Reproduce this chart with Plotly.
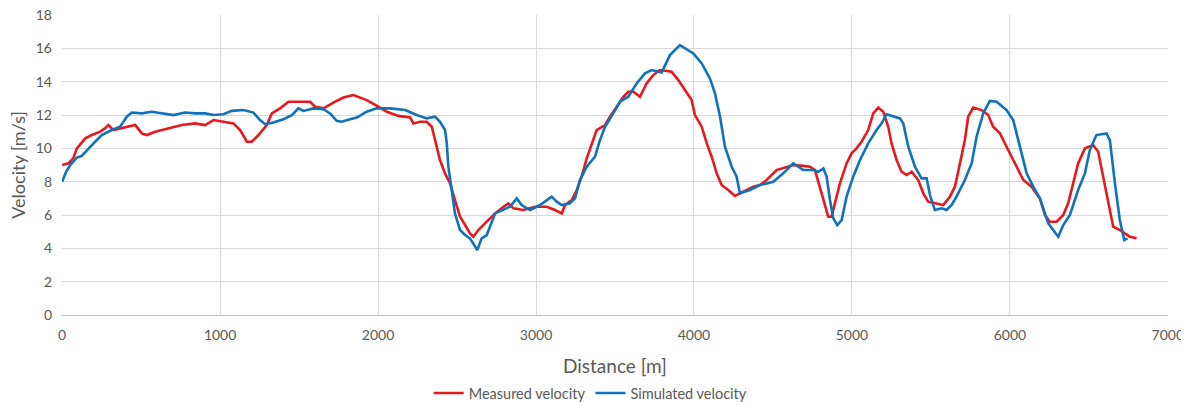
import plotly.graph_objects as go

measured_x = [0, 40, 70, 93, 120, 146, 188, 241, 270, 293, 325, 378, 420, 462, 480, 504, 536, 589, 671, 757,
              842, 905, 958, 1021, 1084, 1127, 1169, 1200, 1243, 1296, 1327, 1380, 1433, 1506, 1570, 1601, 1654,
              1717, 1780, 1844, 1928, 2002, 2055, 2128, 2203, 2224, 2266, 2308, 2340, 2361, 2392, 2424, 2456,
              2487, 2519, 2551, 2582, 2603, 2635, 2688, 2741, 2794, 2825, 2857, 2920, 2994, 3068, 3120, 3163,
              3184, 3226, 3258, 3289, 3321, 3352, 3384, 3437, 3468, 3511, 3553, 3584, 3616, 3658, 3700, 3742,
              3785, 3858, 3901, 3943, 3985, 4006, 4049, 4081, 4112, 4144, 4175, 4217, 4259, 4312, 4375, 4418,
              4460, 4523, 4576, 4629, 4692, 4734, 4766, 4797, 4829, 4850, 4871, 4892, 4924, 4966, 4998, 5029,
              5061, 5103, 5135, 5167, 5198, 5230, 5251, 5283, 5314, 5346, 5378, 5420, 5452, 5483, 5536, 5578,
              5620, 5652, 5684, 5715, 5736, 5768, 5821, 5863, 5894, 5937, 5979, 6032, 6085, 6137, 6190, 6222,
              6253, 6296, 6338, 6369, 6401, 6432, 6475, 6527, 6559, 6591, 6622, 6654, 6696, 6728, 6759, 6802]
measured_v = [9.0, 9.1, 9.4, 10.0, 10.3, 10.6, 10.8, 11.0, 11.2, 11.4, 11.1, 11.2, 11.3, 11.4, 11.2, 10.9, 10.8,
              11.0, 11.2, 11.4, 11.5, 11.4, 11.7, 11.6, 11.5, 11.1, 10.4, 10.4, 10.8, 11.4, 12.1, 12.4, 12.8,
              12.8, 12.8, 12.5, 12.4, 12.75, 13.05, 13.2, 12.9, 12.5, 12.2, 11.95, 11.85, 11.5, 11.6, 11.6, 11.3,
              10.5, 9.3, 8.5, 7.9, 6.9, 5.9, 5.4, 4.9, 4.7, 5.1, 5.6, 6.1, 6.5, 6.7, 6.4, 6.3, 6.5, 6.5, 6.3,
              6.1, 6.6, 6.9, 7.5, 8.3, 9.4, 10.3, 11.1, 11.4, 11.9, 12.5, 13.1, 13.4, 13.4, 13.1, 13.9, 14.4,
              14.7, 14.6, 14.1, 13.5, 12.9, 12.0, 11.3, 10.3, 9.5, 8.5, 7.8, 7.5, 7.15, 7.4, 7.7, 7.8, 8.1, 8.7,
              8.85, 9.0, 8.95, 8.9, 8.7, 7.7, 6.6, 5.9, 5.9, 6.7, 7.9, 9.1, 9.7, 10.0, 10.4, 11.1, 12.1, 12.45,
              12.2, 11.3, 10.3, 9.3, 8.6, 8.4, 8.6, 8.1, 7.3, 6.8, 6.7, 6.6, 7.1, 7.7, 9.1, 10.5, 11.9, 12.45,
              12.3, 12.0, 11.3, 10.9, 10.1, 9.1, 8.1, 7.7, 7.0, 6.0, 5.6, 5.6, 6.0, 6.7, 8.0, 9.1, 10.0, 10.2,
              9.8, 8.3, 6.7, 5.3, 5.1, 4.9, 4.7, 4.6]

simulated_x = [0, 25, 51, 93, 124, 167, 209, 251, 314, 367, 409, 441, 504, 567, 652, 705, 778, 842, 905, 958,
               1021, 1074, 1148, 1211, 1253, 1285, 1337, 1401, 1454, 1496, 1527, 1591, 1654, 1696, 1738, 1770,
               1823, 1865, 1928, 1991, 2076, 2171, 2245, 2308, 2361, 2392, 2424, 2435, 2445, 2466, 2487, 2519,
               2551, 2582, 2603, 2628, 2656, 2688, 2741, 2794, 2835, 2878, 2909, 2962, 3025, 3099, 3131, 3163,
               3215, 3247, 3278, 3321, 3373, 3405, 3437, 3489, 3532, 3584, 3637, 3690, 3732, 3795, 3848, 3911,
               3964, 3996, 4049, 4101, 4133, 4165, 4196, 4239, 4270, 4291, 4354, 4418, 4502, 4565, 4629, 4692,
               4755, 4787, 4819, 4840, 4861, 4882, 4907, 4935, 4966, 5008, 5051, 5103, 5156, 5188, 5219, 5262,
               5304, 5325, 5357, 5399, 5441, 5473, 5494, 5525, 5568, 5599, 5631, 5662, 5715, 5758, 5789, 5831,
               5873, 5916, 5979, 6021, 6063, 6106, 6148, 6190, 6243, 6275, 6306, 6338, 6380, 6432, 6475, 6506,
               6548, 6611, 6633, 6665, 6696, 6724, 6745]
simulated_v = [8.0, 8.6, 9.0, 9.45, 9.55, 10.0, 10.4, 10.8, 11.1, 11.3, 11.9, 12.15, 12.1, 12.2, 12.1, 12.0,
               12.15, 12.1, 12.1, 12.0, 12.05, 12.25, 12.3, 12.15, 11.7, 11.45, 11.55, 11.75, 12.0, 12.4, 12.25,
               12.4, 12.35, 12.1, 11.65, 11.6, 11.75, 11.85, 12.2, 12.4, 12.4, 12.3, 12.0, 11.8, 11.9, 11.6,
               11.1, 10.3, 8.9, 7.5, 6.1, 5.1, 4.8, 4.6, 4.3, 3.9, 4.6, 4.8, 6.1, 6.3, 6.5, 7.0, 6.6, 6.3, 6.6,
               7.1, 6.8, 6.6, 6.7, 7.0, 8.1, 8.9, 9.5, 10.5, 11.3, 12.1, 12.8, 13.1, 13.9, 14.5, 14.7, 14.55,
               15.6, 16.2, 15.9, 15.7, 15.1, 14.2, 13.3, 11.9, 10.1, 8.9, 8.3, 7.3, 7.5, 7.8, 8.0, 8.5, 9.1, 8.7,
               8.7, 8.6, 8.8, 8.3, 6.9, 5.8, 5.4, 5.7, 7.1, 8.3, 9.3, 10.3, 11.1, 11.5, 12.05, 11.9, 11.8, 11.5,
               10.1, 8.9, 8.2, 8.2, 7.2, 6.3, 6.4, 6.3, 6.6, 7.1, 8.1, 9.1, 10.7, 12.1, 12.85, 12.8, 12.3, 11.7,
               10.1, 8.5, 7.7, 7.0, 5.5, 5.1, 4.7, 5.4, 6.0, 7.5, 8.5, 9.9, 10.8, 10.9, 10.5, 7.9, 5.7, 4.5, 4.6]

x_ticks = [0, 1000, 2000, 3000, 4000, 5000, 6000, 7000]
y_ticks = [0, 2, 4, 6, 8, 10, 12, 14, 16, 18]

RED = "#E5191E"
BLUE = "#1072BA"
FONT = "Lato, 'Open Sans', sans-serif"
TXT = "#595959"

fig = go.Figure()
fig.add_trace(go.Scatter(x=measured_x, y=measured_v, mode="lines", name="Measured velocity",
                         line=dict(color=RED, width=2.6, shape="linear")))
fig.add_trace(go.Scatter(x=simulated_x, y=simulated_v, mode="lines", name="Simulated velocity",
                         line=dict(color=BLUE, width=2.6, shape="linear")))

# page body has an 8px margin, so the figure is sized to fit the 1189x405 window
fig.update_layout(
    width=1181, height=397,
    margin=dict(l=54, r=21, t=7, b=90, autoexpand=False),
    paper_bgcolor="white", plot_bgcolor="white",
    font=dict(family=FONT, color=TXT, size=14),
    showlegend=True,
    legend=dict(orientation="h", xref="paper", yref="paper", x=0.478, xanchor="center",
                y=-0.26, yanchor="middle", font=dict(size=14.5, color=TXT, family=FONT),
                itemwidth=30, tracegroupgap=0, bgcolor="rgba(0,0,0,0)"),
    xaxis=dict(range=[-1, 7001], tickmode="array", tickvals=x_ticks, showgrid=True, gridcolor="#D9D9D9",
               gridwidth=1, zeroline=False, showline=True, linecolor="#BFBFBF", linewidth=1, ticks="",
               tickfont=dict(size=14, color=TXT, family=FONT), automargin=False, ticklabelstandoff=7,
               ticklabeloverflow="allow"),
    yaxis=dict(range=[0, 18.005], tickmode="array", tickvals=y_ticks, showgrid=True, gridcolor="#D9D9D9",
               gridwidth=1, zeroline=False, showline=False, ticks="", ticklabelstandoff=9,
               tickfont=dict(size=14, color=TXT, family=FONT), automargin=False,
               ticklabeloverflow="allow"),
    annotations=[
        dict(text="Distance [m]", xref="paper", yref="paper", x=0.5, y=-0.167, xanchor="center",
             yanchor="middle", showarrow=False, font=dict(size=19, color=TXT, family=FONT)),
        dict(text="Velocity [m/s]", xref="paper", yref="paper", x=-0.04, y=0.5, xanchor="center",
             yanchor="middle", textangle=-90, showarrow=False, font=dict(size=18, color=TXT, family=FONT)),
    ],
)

fig.write_html("out.html")
